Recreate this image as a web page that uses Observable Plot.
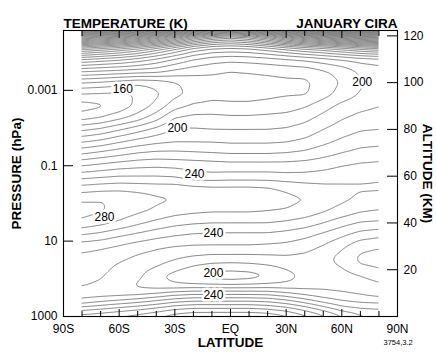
<!DOCTYPE html>
<html><head><meta charset="utf-8">
<script src="https://cdn.jsdelivr.net/npm/d3@7"></script>
<script src="https://cdn.jsdelivr.net/npm/@observablehq/plot@0.6"></script>
<style>
body{margin:0;background:#fff;}
#chart{position:relative;width:436px;height:354px;overflow:hidden;}
</style></head><body><div id="chart"></div>
<script>
// Zonal-mean temperature (K), January CIRA
const latitudes = [-80,-70,-60,-50,-40,-30,-20,-10,0,10,20,30,40,50,60,70,80];
const altitudes = [0,2,4,6,8,10,12,14,16,18,20,22,25,30,35,40,45,50,55,60,65,70,75,80,85,90,95,100,105,110,115,120,125];
const temperature = [
  [275,278,281,284,289,295,299,300,300,300,298,292,283,272,261,252,247],
  [264,267,271,275,280,286,289,289,289,289,287,282,273,263,252,246,244],
  [251,255,259,263,268,274,277,277,277,277,275,270,262,252,242,238,237],
  [237,242,246,250,255,261,264,264,264,264,262,257,249,240,233,230,229],
  [228,231,234,237,242,247,250,250,250,250,249,244,237,230,226,223,221],
  [226,225,225,226,229,234,236,236,236,236,235,231,226,223,221,219,216],
  [229,227,224,220,219,220,222,222,222,222,222,220,219,219,218,216,213],
  [231,229,225,219,215,211,209,208,207,208,210,212,215,217,216,214,211],
  [232,230,226,221,213,207,202,199,198,199,202,207,213,216,215,212,208],
  [233,231,227,223,213,207,200,197,196,197,200,207,213,215,213,209,204],
  [234,232,228,224,218,212,206,202,201,202,205,210,214,214,211,205,201],
  [235,233,229,226,221,216,211,208,207,208,210,213,214,213,209,200,198],
  [237,235,232,228,225,221,218,216,216,216,217,218,217,214,206,198,196],
  [244,242,239,235,232,230,229,229,229,229,228,227,224,219,212,203,201],
  [260,257,252,248,244,241,239,238,238,238,238,236,233,228,222,216,213],
  [277,273,268,262,257,253,251,250,250,250,250,248,245,240,234,229,228],
  [284,281,277,272,268,264,262,261,261,261,260,259,256,251,246,241,239],
  [279,280,279,276,272,270,268,266,266,266,265,263,260,256,252,248,247],
  [264,266,267,266,265,265,263,262,262,262,261,258,255,253,252,251,251],
  [246,248,250,250,250,249,244,243,244,244,244,243,243,244,246,248,249],
  [228,231,234,236,237,236,235,234,233,233,233,233,234,236,239,241,242],
  [208,212,216,220,222,222,221,220,219,219,219,220,222,226,230,233,234],
  [188,192,198,203,207,209,209,209,208,208,208,209,212,217,222,226,227],
  [168,172,179,186,193,201,201,200,200,200,200,201,204,210,215,219,220],
  [146,150,157,165,176,190,193,193,192,192,193,194,197,203,209,213,214],
  [135,138,143,153,163,176,182,183,182,182,183,185,189,196,203,207,210],
  [149,148,147,151,158,167,173,177,177,177,178,179,179,186,194,201,203],
  [170,168,165,162,164,169,174,176,176,176,177,178,178,184,191,199,202],
  [202,200,198,196,194,188,184,182,180,181,182,183,184,189,194,202,205],
  [240,236,232,226,218,209,200,195,193,194,196,199,202,206,210,214,216],
  [300,292,284,274,260,245,230,222,220,222,228,236,244,250,258,266,272],
  [420,410,400,385,365,340,310,290,280,290,310,335,355,370,385,400,410],
  [600,590,580,560,540,510,480,450,440,450,480,510,540,560,580,590,600]
];
const levels = d3.range(130, 620, 10);

const latTickValues = [-90,-60,-30,0,30,60,90];
const latTickLabels = ["90S","60S","30S","EQ","30N","60N","90N"];
const latMinorTicks = [-80,-70,-50,-40,-20,-10,10,20,40,50,70,80];
const latMajorTicks = [-60,-30,0,30,60];
const pressureTicks = [1000, 10, 0.1, 0.001];
const pressureLabels = ["1000","10","0.1","0.001"];
const altitudeTicks = [20,40,60,80,100,120];

const labelLat  = [-58, 71, -28.6, -19.4, -67.9, -9.2, -9.2, -9.2];
const labelAlt  = [97.4, 100, 80.7, 61, 42.6, 35.5, 18.4, 9.0];
const labelText = ["160","200","200","240","280","240","200","240"];

const scaleHeight = 7.0; // km, converts pressure ticks to altitude
const pAlt = p => scaleHeight * Math.log(1000 / p);
const topAlt = 122.3;

function tempAt(lat, z) {
  const la = Math.max(latitudes[0], Math.min(latitudes[latitudes.length-1], lat));
  const zz = Math.max(altitudes[0], Math.min(altitudes[altitudes.length-1], z));
  let i = Math.min(latitudes.length - 2, Math.max(0, d3.bisectRight(latitudes, la) - 1));
  let j = Math.min(altitudes.length - 2, Math.max(0, d3.bisectRight(altitudes, zz) - 1));
  const tx = (la - latitudes[i]) / (latitudes[i+1] - latitudes[i]);
  const tz = (zz - altitudes[j]) / (altitudes[j+1] - altitudes[j]);
  const a = temperature[j][i], b = temperature[j][i+1], c = temperature[j+1][i], d = temperature[j+1][i+1];
  return (a*(1-tx) + b*tx)*(1-tz) + (c*(1-tx) + d*tx)*tz;
}

const contourLabels = labelText.map((t, k) => ({lat: labelLat[k], alt: labelAlt[k], text: t}));
const font = "'Liberation Sans', Arial, Helvetica, sans-serif";

const plot = Plot.plot({
  width: 436, height: 354,
  marginLeft: 63, marginRight: 39, marginTop: 30, marginBottom: 38,
  style: {fontFamily: font, fontSize: "12px", background: "white", color: "black"},
  x: {domain: [-90, 90]},
  y: {domain: [0, topAlt]},
  marks: [
    Plot.contour({
      value: (x, y) => tempAt(x, y),
      x1: -82, x2: 82, y1: -2, y2: 126,
      thresholds: levels,
      fill: "none", stroke: "#707070", strokeWidth: 0.85,
      pixelSize: 1, blur: 2
    }),
    Plot.text(contourLabels, {x: "lat", y: "alt", text: "text", fill: "black",
      stroke: "white", strokeWidth: 5, paintOrder: "stroke", fontSize: 12}),
    Plot.frame({stroke: "black", strokeWidth: 1.1}),
    // bottom ticks (inside)
    Plot.axisX(latMinorTicks, {anchor: "bottom", tickSize: 5, dy: -5, tickFormat: () => "", label: null}),
    Plot.axisX(latMajorTicks, {anchor: "bottom", tickSize: 7, dy: -7, tickFormat: () => "", label: null}),
    Plot.axisX(latTickValues, {anchor: "bottom", tickSize: 0, tickPadding: 8,
      tickFormat: d => latTickLabels[latTickValues.indexOf(d)], label: null}),
    // top ticks (inside)
    Plot.axisX(latMinorTicks, {anchor: "top", tickSize: 5, dy: 5, tickFormat: () => "", label: null}),
    Plot.axisX(latMajorTicks, {anchor: "top", tickSize: 7, dy: 7, tickFormat: () => "", label: null}),
    // left pressure axis
    Plot.axisY(pressureTicks.map(pAlt), {anchor: "left", tickSize: 10, dx: 10, tickFormat: () => "", label: null}),
    Plot.axisY(pressureTicks.map(pAlt), {anchor: "left", tickSize: 0, tickPadding: 6,
      tickFormat: (d, i) => pressureLabels[i], label: null}),
    // right altitude axis
    Plot.axisY(altitudeTicks, {anchor: "right", tickSize: 11, dx: -11, tickFormat: () => "", label: null}),
    Plot.axisY(altitudeTicks, {anchor: "right", tickSize: 0, tickPadding: 6, label: null}),
    // titles
    Plot.text(["TEMPERATURE (K)"], {frameAnchor: "top-left", textAnchor: "start", dy: -12,
      fontSize: 13.5, fontWeight: "bold"}),
    Plot.text(["JANUARY CIRA"], {frameAnchor: "top-right", textAnchor: "end", dy: -12,
      fontSize: 13.5, fontWeight: "bold"}),
    Plot.text(["LATITUDE"], {frameAnchor: "bottom", textAnchor: "middle", dy: 30, fontSize: 13.5, fontWeight: "bold"}),
    Plot.text(["PRESSURE (hPa)"], {frameAnchor: "left", textAnchor: "middle", dx: -47, rotate: -90, fontSize: 13.5, fontWeight: "bold"}),
    Plot.text(["ALTITUDE (KM)"], {frameAnchor: "right", textAnchor: "middle", dx: 30, rotate: 90, fontSize: 13.5, fontWeight: "bold"}),
    Plot.text(["3754,3.2"], {frameAnchor: "bottom-right", textAnchor: "start", dx: -14, dy: 28, fontSize: 7.5})
  ]
});

// clip contour lines to the 80S–80N data region
(function clip() {
  const ns = "http://www.w3.org/2000/svg";
  const xs = plot.scale("x"), ys = plot.scale("y");
  const x0 = xs.apply(-80), x1 = xs.apply(80), y0 = ys.apply(topAlt), y1 = ys.apply(0);
  const defs = document.createElementNS(ns, "defs");
  const cp = document.createElementNS(ns, "clipPath");
  cp.setAttribute("id", "dataClip");
  const r = document.createElementNS(ns, "rect");
  r.setAttribute("x", x0); r.setAttribute("y", y0);
  r.setAttribute("width", x1 - x0); r.setAttribute("height", y1 - y0);
  cp.appendChild(r); defs.appendChild(cp); plot.insertBefore(defs, plot.firstChild);
  const g = plot.querySelector('g[aria-label="contour"]');
  if (g) {
    const wrap = document.createElementNS(ns, "g");
    g.parentNode.insertBefore(wrap, g);
    wrap.appendChild(g);
    wrap.setAttribute("clip-path", "url(#dataClip)");
  }
})();

document.getElementById("chart").appendChild(plot);
</script>
</body></html>
